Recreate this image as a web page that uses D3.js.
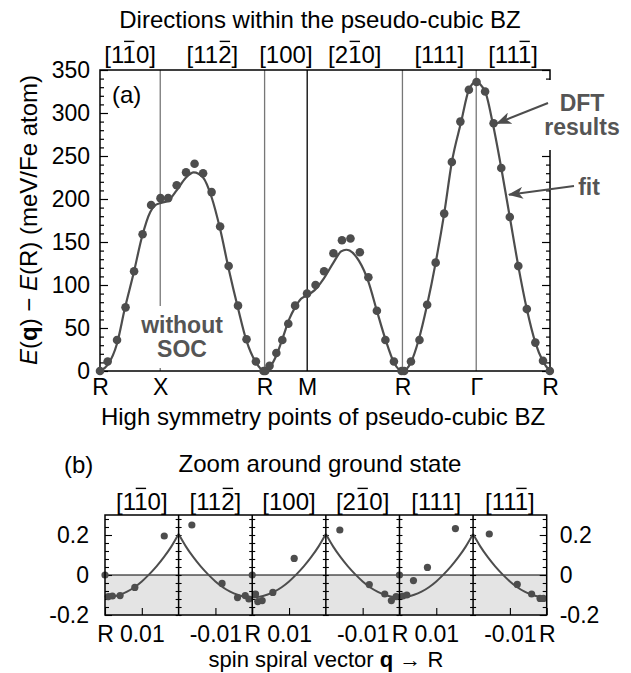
<!DOCTYPE html>
<html>
<head>
<meta charset="utf-8">
<script src="https://cdn.jsdelivr.net/npm/d3@7"></script>
<style>
  body { margin: 0; background: #fff; }
  svg { display: block; }
  text { font-family: 'Liberation Sans', Arial, sans-serif; }
</style>
</head>
<body>
<svg id="chart" width="631" height="673"></svg>
<script>
// ---- data (a): energies along the high symmetry path, path length in units of 2pi/a ----
const pointNames = ['R', 'X', 'R', 'M', 'R', 'Γ', 'R'];
const pointPos = [0, 0.707, 1.932, 2.432, 3.550, 4.416, 5.282];
const dirLabels = ['[110]', '[112]', '[100]', '[210]', '[111]', '[111]'];
const dirBar = [2, 3, -1, 2, -1, 3]; // index of the character with an overbar

const dftX = [0.00, 0.09, 0.20, 0.30, 0.40, 0.50, 0.60, 0.71, 0.80, 0.90, 1.01, 1.11, 1.21, 1.31, 1.41, 1.51, 1.62, 1.72, 1.83, 1.92, 1.94,
  1.99, 2.07, 2.14, 2.21, 2.29, 2.43, 2.53, 2.63, 2.74, 2.84, 2.94, 3.05, 3.15, 3.25, 3.35, 3.45, 3.54, 3.57,
  3.65, 3.75, 3.84, 3.94, 4.04, 4.13, 4.23, 4.33, 4.42, 4.52, 4.62, 4.71, 4.81, 4.91, 5.01, 5.11, 5.20, 5.28];
const dftE = [0, 11, 36, 74, 116, 159, 193, 201, 201, 216, 231, 241, 230, 208, 168, 122, 76, 37, 11, 0, 0,
  6, 21, 36, 55, 76, 90, 100, 116, 137, 152, 154, 138, 109, 70, 36, 11, 0, 0,
  11, 36, 77, 126, 183, 243, 290, 327, 336, 325, 288, 236, 179, 122, 72, 33, 12, 0];

const fitX = [0, 0.09, 0.20, 0.29, 0.40, 0.49, 0.59, 0.65, 0.70, 0.80, 0.90, 1.01, 1.10, 1.21, 1.31, 1.41, 1.51, 1.62, 1.72, 1.83, 1.93,
  1.99, 2.07, 2.15, 2.22, 2.29, 2.36, 2.43, 2.52, 2.63, 2.74, 2.83, 2.89, 2.93, 3.04, 3.15, 3.25, 3.35, 3.45, 3.55,
  3.65, 3.74, 3.84, 3.94, 4.04, 4.13, 4.24, 4.33, 4.41, 4.52, 4.61, 4.71, 4.81, 4.91, 5.01, 5.11, 5.20, 5.28];
const fitE = [0, 7, 32, 72, 116, 155, 185, 193, 195, 198, 210, 225, 231, 225, 202, 165, 119, 73, 35, 10, 0,
  4, 18, 40, 60, 74, 84, 88, 94, 108, 126, 139, 141, 140, 128, 104, 70, 37, 10, 0,
  10, 36, 77, 126, 183, 243, 290, 327, 336, 325, 288, 236, 179, 122, 72, 33, 11, 0];

// ---- data (b): zoom around the ground state, |q - R| in units of 2pi/a ----
const zoomSide = [1, -1, 1, -1, 1, -1];
const zoomDotQ = [
  [0, 0.0009, 0.0020, 0.0041, 0.0081, 0.0161],
  [-0.0164, -0.0082, -0.0040, -0.0019, -0.0009],
  [0, 0.0009, 0.0015, 0.0027, 0.0056, 0.0114],
  [-0.0162, -0.0082, -0.0040, -0.0022, -0.0009],
  [0, 0.0009, 0.0020, 0.0038, 0.0076, 0.0152],
  [-0.0156, -0.0080, -0.0041, -0.0018, -0.0009]
];
const zoomDotE = [
  [0, -0.108, -0.105, -0.103, -0.062, 0.195],
  [0.250, -0.042, -0.113, -0.103, -0.120],
  [0, -0.095, -0.133, -0.128, -0.087, 0.083],
  [0.225, -0.048, -0.095, -0.128, -0.108],
  [0, -0.105, -0.100, -0.028, 0.038, 0.232],
  [0.205, -0.047, -0.095, -0.117, -0.117]
];
const zoomFitQ = [0, 0.002, 0.004, 0.006, 0.008, 0.010, 0.012, 0.014, 0.016, 0.018, 0.020];
const zoomFitE = [-0.112, -0.109, -0.099, -0.083, -0.061, -0.032, 0.003, 0.043, 0.089, 0.142, 0.205];

// ---- drawing ----
const svg = d3.select('#chart');
const grey = '#4d4d4d';
const noteGrey = '#555';

const x = d3.scaleLinear().domain([0, 5.282]).range([100, 550]);
const y = d3.scaleLinear().domain([0, 350]).range([371, 70]);

const defs = svg.append('defs');
defs.append('marker')
  .attr('id', 'arrow')
  .attr('markerUnits', 'userSpaceOnUse')
  .attr('markerWidth', 16).attr('markerHeight', 12)
  .attr('refX', 14).attr('refY', 6)
  .attr('orient', 'auto')
  .append('path')
  .attr('d', 'M0,0 L15,6 L0,12 L4,6 Z')
  .attr('fill', grey);

// overbar labels like [1-10]
function barLabel(g, text, barIdx, cx, base, size) {
  const t = g.append('text')
    .attr('x', cx).attr('y', base)
    .attr('text-anchor', 'middle')
    .style('font-size', size + 'px')
    .style('fill', '#000')
    .text(text);
  if (barIdx >= 0) {
    const r = t.node().getExtentOfChar(barIdx);
    g.append('line')
      .attr('x1', r.x + 1.5).attr('x2', r.x + r.width - 1.5)
      .attr('y1', base - size * 0.9).attr('y2', base - size * 0.9)
      .attr('stroke', '#000').attr('stroke-width', 1.4);
  }
}

// titles
svg.append('text').attr('x', 320).attr('y', 28).attr('text-anchor', 'middle')
  .style('font-size', '24px').text('Directions within the pseudo-cubic BZ');

const topLab = svg.append('g');
dirLabels.forEach((d, i) => {
  barLabel(topLab, d, dirBar[i], x((pointPos[i] + pointPos[i + 1]) / 2), 63, 24);
});

// (a) panel
const pa = svg.append('g');

// vertical lines at high symmetry points
pa.selectAll('line.sym').data(pointPos.slice(1, -1))
  .enter().append('line')
  .attr('class', 'sym')
  .attr('x1', d => x(d)).attr('x2', d => x(d))
  .attr('y1', y(350)).attr('y2', y(0))
  .attr('stroke', (d, i) => pointNames[i + 1] === 'M' ? '#000' : '#777')
  .attr('stroke-width', 1.3);

// y axes with inward ticks
const minorA = d3.range(10, 350, 10).filter(v => v % 50 !== 0);
pa.append('g').attr('transform', 'translate(100,0)')
  .call(d3.axisLeft(y).tickValues(minorA).tickSizeInner(-4).tickSizeOuter(0).tickFormat(''));
pa.append('g').attr('class', 'ya').attr('transform', 'translate(100,0)')
  .call(d3.axisLeft(y).tickValues(d3.range(0, 351, 50)).tickSizeInner(-8).tickSizeOuter(0).tickPadding(10));
pa.append('g').attr('transform', 'translate(550,0)')
  .call(d3.axisRight(y).tickValues(minorA).tickSizeInner(-4).tickSizeOuter(0).tickFormat(''));
pa.append('g').attr('transform', 'translate(550,0)')
  .call(d3.axisRight(y).tickValues(d3.range(0, 351, 50)).tickSizeInner(-8).tickSizeOuter(0).tickFormat(''));

// x axis
pa.append('g').attr('class', 'xa').attr('transform', 'translate(0,371)')
  .call(d3.axisBottom(x).tickValues(pointPos).tickFormat((d, i) => pointNames[i]).tickSize(0).tickPadding(8));

pa.selectAll('.domain').remove();
pa.selectAll('.tick line').attr('stroke', '#000').attr('stroke-width', 1.2);
pa.selectAll('.tick text').style('font-size', '23px').style('fill', '#000');

// frame
pa.append('rect').attr('x', 100).attr('y', 70).attr('width', 450).attr('height', 301)
  .attr('fill', 'none').attr('stroke', '#000').attr('stroke-width', 1.5);

// fit line and DFT points
const fitLine = d3.line().x(d => x(d[0])).y(d => y(d[1])).curve(d3.curveMonotoneX);
pa.append('path').datum(d3.zip(fitX, fitE))
  .attr('d', fitLine).attr('fill', 'none').attr('stroke', grey).attr('stroke-width', 2.2);
pa.selectAll('circle.dft').data(d3.zip(dftX, dftE))
  .enter().append('circle')
  .attr('class', 'dft')
  .attr('cx', d => x(d[0])).attr('cy', d => y(d[1])).attr('r', 4.3)
  .attr('fill', grey);

// panel annotations
pa.append('text').attr('x', 112).attr('y', 103).style('font-size', '24px').style('fill', '#000').text('(a)');

function boxedNote(lines, cx, base, lh, padX, padY) {
  const g = pa.append('g');
  const bg = g.append('rect').attr('fill', '#fff');
  const t = g.append('text').attr('text-anchor', 'middle')
    .style('font-size', '23px').style('font-weight', 'bold').style('fill', noteGrey);
  lines.forEach((s, i) => t.append('tspan').attr('x', cx).attr('y', base + i * lh).text(s));
  const b = t.node().getBBox();
  bg.attr('x', b.x - padX).attr('y', b.y - padY).attr('width', b.width + 2 * padX).attr('height', b.height + 2 * padY);
}
boxedNote(['without', 'SOC'], 182, 333, 24, 3, 6);
boxedNote(['DFT', 'results'], 582, 111, 24, 3, 10);
pa.append('text').attr('x', 589).attr('y', 195).attr('text-anchor', 'middle')
  .style('font-size', '23px').style('font-weight', 'bold').style('fill', noteGrey).text('fit');

pa.append('line').attr('x1', 548).attr('y1', 103).attr('x2', x(4.66)).attr('y2', y(288))
  .attr('stroke', grey).attr('stroke-width', 2).attr('marker-end', 'url(#arrow)');
pa.append('line').attr('x1', 574).attr('y1', 186).attr('x2', x(4.80)).attr('y2', y(205))
  .attr('stroke', grey).attr('stroke-width', 2).attr('marker-end', 'url(#arrow)');

// y label
const yl = svg.append('text').attr('transform', 'translate(37,220) rotate(-90)')
  .attr('text-anchor', 'middle').style('font-size', '24px').style('fill', '#000');
yl.append('tspan').style('font-style', 'italic').text('E');
yl.append('tspan').text('(');
yl.append('tspan').style('font-weight', 'bold').text('q');
yl.append('tspan').text(') − ');
yl.append('tspan').style('font-style', 'italic').text('E');
yl.append('tspan').text('(R) (meV/Fe atom)');

svg.append('text').attr('x', 323).attr('y', 425).attr('text-anchor', 'middle')
  .style('font-size', '24px').style('fill', '#000').text('High symmetry points of pseudo-cubic BZ');

// (b) panel
const zl = 105, zw = 441.7 / 6;
const yz = d3.scaleLinear().domain([-0.2, 0.3]).range([615, 515]);
const pb = svg.append('g');

svg.append('text').attr('x', 64).attr('y', 473).style('font-size', '24px').style('fill', '#000').text('(b)');
svg.append('text').attr('x', 320).attr('y', 472).attr('text-anchor', 'middle')
  .style('font-size', '24px').style('fill', '#000').text('Zoom around ground state');

pb.append('rect').attr('x', zl).attr('y', yz(0)).attr('width', zw * 6).attr('height', yz(-0.2) - yz(0))
  .attr('fill', '#e4e4e4');
pb.append('line').attr('x1', zl).attr('x2', zl + zw * 6).attr('y1', yz(0)).attr('y2', yz(0))
  .attr('stroke', '#000').attr('stroke-width', 1.2);

const zMinor = [-0.16, -0.12, -0.08, -0.04, 0.04, 0.08, 0.12, 0.16, 0.24, 0.28];
const zMajor = [-0.2, 0, 0.2];
const zFmt = d => d === 0 ? '0' : d3.format('.1f')(d).replace('−', '-');

const zAxes = pb.append('g');
zAxes.append('g').attr('transform', `translate(${zl},0)`)
  .call(d3.axisLeft(yz).tickValues(zMinor).tickSizeInner(-4).tickSizeOuter(0).tickFormat(''));
zAxes.append('g').attr('transform', `translate(${zl},0)`)
  .call(d3.axisLeft(yz).tickValues(zMajor).tickSizeInner(-7).tickSizeOuter(0).tickPadding(16).tickFormat(zFmt));
zAxes.append('g').attr('transform', `translate(${zl + zw * 6},0)`)
  .call(d3.axisRight(yz).tickValues(zMinor).tickSizeInner(-4).tickSizeOuter(0).tickFormat(''));
zAxes.append('g').attr('transform', `translate(${zl + zw * 6},0)`)
  .call(d3.axisRight(yz).tickValues(zMajor).tickSizeInner(-7).tickSizeOuter(0).tickPadding(13).tickFormat(zFmt));
// ticks on the panel dividers, both sides
for (let k = 1; k < 6; k++) {
  const gx = zl + zw * k;
  zAxes.append('g').attr('transform', `translate(${gx},0)`)
    .call(d3.axisLeft(yz).tickValues(zMinor.concat(zMajor)).tickSizeInner(3).tickSizeOuter(0).tickFormat(''));
  zAxes.append('g').attr('transform', `translate(${gx},0)`)
    .call(d3.axisRight(yz).tickValues(zMinor.concat(zMajor)).tickSizeInner(3).tickSizeOuter(0).tickFormat(''));
}

const zFit = d3.line().curve(d3.curveMonotoneX);
zoomSide.forEach((side, k) => {
  const xz = d3.scaleLinear()
    .domain(side > 0 ? [0, 0.02] : [-0.02, 0])
    .range([zl + zw * k, zl + zw * (k + 1)]);
  const ticks = side > 0 ? [0, 0.01] : (k === 5 ? [-0.01, 0] : [-0.01]);
  zAxes.append('g').attr('transform', 'translate(0,615)')
    .call(d3.axisBottom(xz).tickValues(ticks).tickSizeInner(-7).tickSizeOuter(0).tickPadding(11)
      .tickFormat(d => d === 0 ? 'R' : d3.format('.2f')(d).replace('−', '-')));

  const pts = zoomFitQ.map((q, i) => [xz(side * q), yz(zoomFitE[i])]).sort((a, b) => a[0] - b[0]);
  pb.append('path').attr('d', zFit(pts)).attr('fill', 'none').attr('stroke', grey).attr('stroke-width', 2);

  pb.selectAll(null).data(d3.zip(zoomDotQ[k], zoomDotE[k]))
    .enter().append('circle')
    .attr('cx', d => xz(d[0])).attr('cy', d => yz(d[1])).attr('r', 3.6)
    .attr('fill', grey);

  barLabel(pb, dirLabels[k], dirBar[k], zl + zw * (k + 0.5), 510, 24);
});

zAxes.selectAll('.domain').remove();
zAxes.selectAll('.tick line').attr('stroke', '#000').attr('stroke-width', 1.1);
zAxes.selectAll('.tick text').style('font-size', '23px').style('fill', '#000');

// dividers and frame
for (let k = 1; k < 6; k++) {
  pb.append('line').attr('x1', zl + zw * k).attr('x2', zl + zw * k).attr('y1', 515).attr('y2', 615)
    .attr('stroke', '#000').attr('stroke-width', 1.5);
}
pb.append('rect').attr('x', zl).attr('y', 515).attr('width', zw * 6).attr('height', 100)
  .attr('fill', 'none').attr('stroke', '#000').attr('stroke-width', 1.5);

const xl = svg.append('text').attr('x', 326).attr('y', 667).attr('text-anchor', 'middle')
  .style('font-size', '22px').style('fill', '#000');
xl.append('tspan').text('spin spiral vector ');
xl.append('tspan').style('font-weight', 'bold').text('q');
xl.append('tspan').text(' → R');
</script>
</body>
</html>
